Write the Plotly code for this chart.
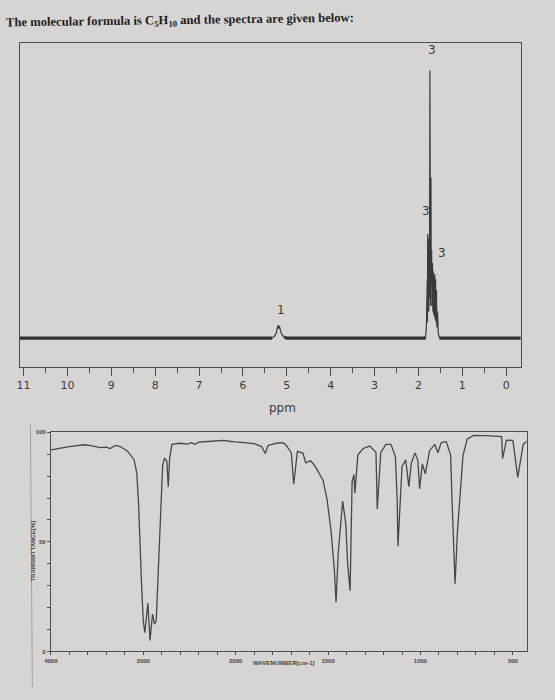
import plotly.graph_objects as go

W, H = 555, 700

# ---------------- 1H NMR data ----------------
nmr_ppm = [11.09, 5.34, 5.28, 5.24, 5.215, 5.2, 5.185, 5.17, 5.15, 5.12, 5.06, 5.0,
           1.84, 1.82, 1.80, 1.795, 1.79, 1.785, 1.78, 1.775, 1.77, 1.765, 1.755, 1.75,
           1.74, 1.735, 1.73, 1.725, 1.715, 1.71, 1.70, 1.69, 1.68, 1.672, 1.662, 1.655,
           1.645, 1.638, 1.628, 1.62, 1.61, 1.60, 1.59, 1.58, 1.565, 1.55, 1.52, -0.33]
nmr_int = [0, 0, 0.008, 0.02, 0.04, 0.048, 0.036, 0.046, 0.032, 0.015, 0.004, 0,
           0, 0.04, 0.22, 0.06, 0.39, 0.10, 0.37, 0.12, 0.30, 0.10, 0.38, 0.15,
           1.0, 0.18, 0.30, 0.12, 0.60, 0.20, 0.33, 0.12, 0.28, 0.10, 0.25, 0.09,
           0.23, 0.08, 0.24, 0.07, 0.22, 0.06, 0.18, 0.04, 0.10, 0.02, 0, 0]
nmr_ticks = list(range(0, 12))
nmr_labels = [str(v) for v in nmr_ticks]
integ_text = ["3", "3", "3", "1"]
integ_ppm = [1.70, 1.84, 1.47, 5.14]
integ_y = [1.075, 0.474, 0.319, 0.107]

# ---------------- IR data ----------------
ir_wn = [4000, 3900, 3800, 3640, 3550, 3470, 3400, 3360, 3300, 3250, 3170, 3100, 3070, 3050,
         3030, 3020, 3000, 2983, 2950, 2927, 2900, 2878, 2860, 2830, 2790, 2770, 2745, 2730,
         2715, 2690, 2600, 2520, 2480, 2440, 2400, 2300, 2200, 2130, 2050, 2000, 1960, 1900,
         1860, 1840, 1825, 1780, 1750, 1732, 1699, 1686, 1666, 1636, 1621, 1594, 1569, 1527,
         1505, 1484, 1466, 1457, 1445, 1435, 1421, 1404, 1394, 1381, 1370, 1360, 1355, 1339,
         1310, 1275, 1241, 1234, 1215, 1187, 1160, 1136, 1126, 1122, 1100, 1080, 1063, 1050,
         1030, 1014, 1005, 990, 974, 951, 923, 906, 888, 861, 837, 829, 820, 813,
         800, 780, 770, 747, 711, 650, 600, 561, 556, 545, 535, 500, 474, 444,
         421, 410]
ir_t = [92, 92.8, 93.5, 94.3, 93.8, 93, 93.2, 92.6, 94, 93.5, 91.4, 87.5, 81.4, 66.4,
        41, 32, 14, 8.5, 22, 5, 17, 12.5, 14, 45, 85, 88, 87, 75,
        88, 94.5, 95, 94.6, 95.3, 94.5, 95.5, 95.8, 96, 96.3, 95.8, 95.6, 95.2, 94.8,
        93.5, 90.3, 94, 95, 95.3, 94.6, 90.7, 76.3, 91.3, 90.5, 86, 87, 84.3, 78,
        69, 55, 37, 22.5, 45, 55, 68.6, 58, 39.7, 27.6, 77.6, 80.6, 72.2, 89.7,
        92.6, 93.7, 90.9, 65, 90.8, 94.5, 94.5, 89, 69.2, 48, 84.4, 87.4, 75.2, 85.8,
        90.6, 87.1, 74.2, 85.6, 81, 91.6, 94.5, 90.7, 95.2, 95.8, 89.7, 68.3, 45.4, 30.9,
        55, 75.8, 89.5, 97, 98.6, 98.5, 98.2, 98, 88, 93, 96.4, 96.3, 79.4, 94.6,
        96, 92]
ir_hi_ticks = [4000, 3000, 2000]
ir_lo_ticks = [1500, 1000, 500]
ir_y_ticks = [0, 50, 100]

assert len(ir_wn) == len(ir_t)
assert len(nmr_ppm) == len(nmr_int)

BG = "#d7d5d3"
INK = "#3a3a3a"
AX = "#4d4d4d"


def px_x(p):
    return p / W


def px_y(p):
    return 1 - p / H


fig = go.Figure()

# NMR spectrum
fig.add_trace(go.Scatter(x=nmr_ppm, y=nmr_int, mode="lines",
                         line=dict(color=INK, width=1.2), xaxis="x", yaxis="y",
                         hoverinfo="skip", showlegend=False))
# thick noisy-looking baseline (only where spectrum is flat)
base_y = [v if v <= 0.005 else None for v in nmr_int]
fig.add_trace(go.Scatter(x=nmr_ppm, y=base_y, mode="lines", connectgaps=False,
                         line=dict(color="#333333", width=3.2), xaxis="x", yaxis="y",
                         hoverinfo="skip", showlegend=False))

# IR spectrum split over the two wavenumber scales
hi_x = [w for w in ir_wn if w >= 2000]
hi_y = [t for w, t in zip(ir_wn, ir_t) if w >= 2000]
lo_x = [w for w in ir_wn if w <= 2000]
lo_y = [t for w, t in zip(ir_wn, ir_t) if w <= 2000]
fig.add_trace(go.Scatter(x=hi_x, y=hi_y, mode="lines", line=dict(color="#474747", width=1.3),
                         xaxis="x2", yaxis="y2", hoverinfo="skip", showlegend=False))
fig.add_trace(go.Scatter(x=lo_x, y=lo_y, mode="lines", line=dict(color="#474747", width=1.3),
                         xaxis="x3", yaxis="y3", hoverinfo="skip", showlegend=False))

# geometry (pixels)
nmr_l, nmr_r, nmr_t, nmr_b = 13, 527, 40, 367
ir_l, ir_split, ir_r, ir_t_px, ir_b = 45, 234.6, 533, 433, 654
px_per_unit = (ir_split - ir_l) / 2.0  # pixels per 1000 cm-1 (high) / 500 cm-1 (low)
lo_end = 2000 - (ir_r - ir_split) / px_per_unit * 500

tickfont_ir = dict(family="Liberation Sans", size=6, color="#444444", weight="bold")

fig.update_layout(
    width=W, height=H,
    margin=dict(l=0, r=0, t=0, b=0),
    paper_bgcolor=BG, plot_bgcolor=BG,
    showlegend=False,
    xaxis=dict(domain=[px_x(nmr_l), px_x(nmr_r)], range=[11.09, -0.33], anchor="y",
               showline=True, linecolor=AX, linewidth=1.2, mirror=True,
               ticks="outside", ticklen=8, tickwidth=1.2, tickcolor=AX,
               tickmode="array", tickvals=nmr_ticks, ticktext=nmr_labels,
               minor=dict(tickmode="linear", tick0=0, dtick=0.5, ticks="outside",
                          ticklen=5, tickwidth=1.1, tickcolor=AX),
               tickfont=dict(family="DejaVu Sans", size=11, color=INK),
               showgrid=False, zeroline=False),
    yaxis=dict(domain=[px_y(nmr_b), px_y(nmr_t)], range=[-0.107, 1.104], anchor="x",
               showline=True, linecolor=AX, linewidth=1.2, mirror=True,
               showticklabels=False, ticks="", showgrid=False, zeroline=False),
    xaxis2=dict(domain=[px_x(ir_l), px_x(ir_split)], range=[4000, 2000], anchor="y2",
                showline=True, linecolor=AX, linewidth=1.2, mirror=True,
                ticks="outside", ticklen=3, tickcolor=AX,
                tickmode="array", tickvals=ir_hi_ticks, ticktext=[str(v) for v in ir_hi_ticks],
                minor=dict(tickmode="linear", tick0=0, dtick=200, ticks="outside",
                           ticklen=2.5, tickcolor=AX),
                tickfont=tickfont_ir, showgrid=False, zeroline=False),
    xaxis3=dict(domain=[px_x(ir_split), px_x(ir_r)], range=[2000, lo_end], anchor="y3",
                showline=True, linecolor=AX, linewidth=1.2, mirror=True,
                ticks="outside", ticklen=3, tickcolor=AX,
                tickmode="array", tickvals=ir_lo_ticks, ticktext=[str(v) for v in ir_lo_ticks],
                minor=dict(tickmode="linear", tick0=0, dtick=100, ticks="outside",
                           ticklen=2.5, tickcolor=AX),
                tickfont=tickfont_ir, showgrid=False, zeroline=False),
    yaxis2=dict(domain=[px_y(ir_b), px_y(ir_t_px)], range=[0, 100], anchor="x2",
                showline=True, linecolor=AX, linewidth=1.2,
                ticks="outside", ticklen=3, tickcolor=AX,
                tickmode="array", tickvals=ir_y_ticks, ticktext=[str(v) for v in ir_y_ticks],
                minor=dict(tickmode="linear", tick0=0, dtick=10, ticks="outside",
                           ticklen=2.5, tickcolor=AX),
                tickfont=tickfont_ir, showgrid=False, zeroline=False),
    yaxis3=dict(domain=[px_y(ir_b), px_y(ir_t_px)], range=[0, 100], anchor="x3",
                side="right", showline=True, linecolor=AX, linewidth=1.2,
                showticklabels=False, ticks="", showgrid=False, zeroline=False),
)

annotations = [
    dict(text="The molecular formula is C<sub>5</sub>H<sub>10</sub> and the spectra are given below:",
         xref="paper", yref="paper", x=px_x(-3), y=px_y(18), xanchor="left", yanchor="middle",
         showarrow=False, textangle=-0.8,
         font=dict(family="Liberation Serif", size=12.6, color="#1e1e1e", weight="bold")),
    dict(text="ppm", xref="paper", yref="paper", x=px_x(283), y=px_y(409),
         xanchor="center", yanchor="middle", showarrow=False,
         font=dict(family="DejaVu Sans", size=12, color=INK)),
    dict(text="WAVENUMBER[cm-1]", xref="paper", yref="paper", x=px_x(284), y=px_y(666),
         xanchor="center", yanchor="middle", showarrow=False,
         font=dict(family="Liberation Sans", size=6, color="#444444", weight="bold")),
    dict(text="TRANSMITTANCE[%]", xref="paper", yref="paper", x=px_x(27), y=px_y(553),
         xanchor="center", yanchor="middle", showarrow=False, textangle=-90,
         font=dict(family="Liberation Sans", size=6, color="#444444", weight="bold")),
]
for txt, xp, yv in zip(integ_text, integ_ppm, integ_y):
    annotations.append(dict(text=txt, x=xp, y=yv, xref="x", yref="y", showarrow=False,
                            xanchor="center", yanchor="middle",
                            font=dict(family="DejaVu Sans", size=12, color=INK)))
fig.update_layout(annotations=annotations)

# edge of another sheet visible at left of the IR chart
fig.add_shape(type="line", xref="paper", yref="paper",
              x0=px_x(24), x1=px_x(26), y0=px_y(425), y1=px_y(690),
              line=dict(color="#a3a19f", width=1))

fig.write_html("out.html")
